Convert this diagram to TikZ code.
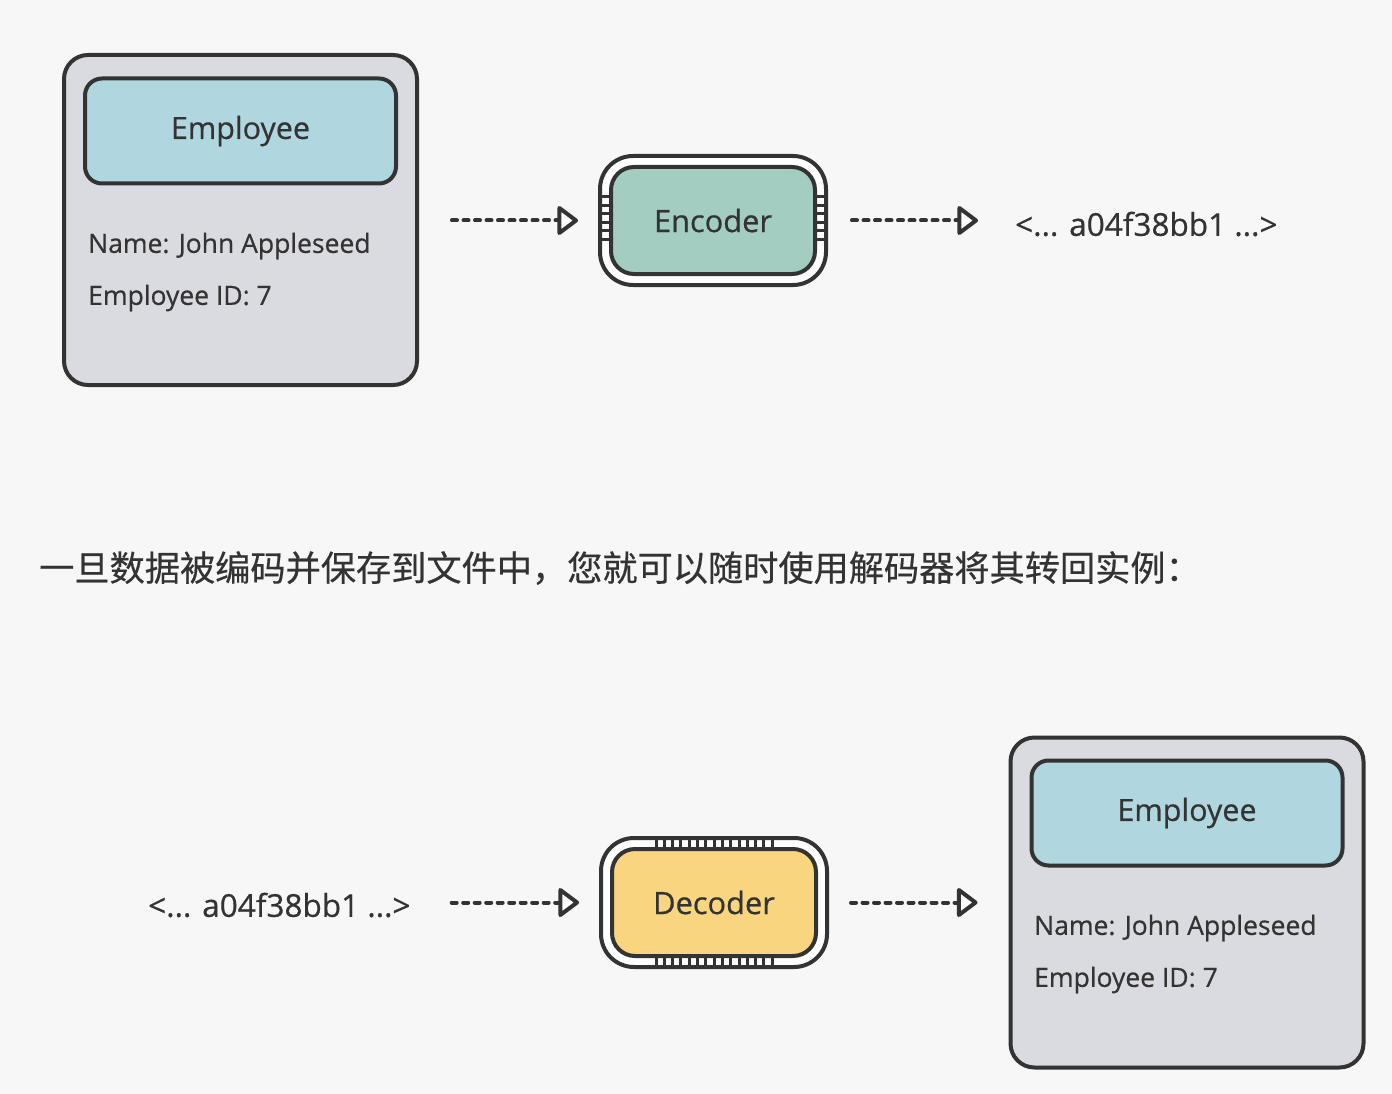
\documentclass[tikz,border=0pt]{standalone}
\usepackage{fontspec}
\setmainfont[FakeBold=0.6]{Open Sans}
\newfontfamily\cjk[FakeBold=0.4]{Noto Sans CJK SC}
\usetikzlibrary{arrows.meta}
\definecolor{bg}{HTML}{F7F7F7}
\definecolor{ink}{HTML}{333333}
\definecolor{boxgray}{HTML}{DADBE0}
\definecolor{hdrblue}{HTML}{B0D7DF}
\definecolor{encgreen}{HTML}{A3CDC1}
\definecolor{decyellow}{HTML}{F8D57E}
\begin{document}
\begin{tikzpicture}[x=1pt,y=-1pt,
  outerbox/.style={draw=ink, line width=4pt, fill=boxgray, rounded corners=24pt,
    minimum width=353pt, minimum height=330pt, inner sep=0pt},
  hdrbox/.style={draw=ink, line width=4pt, fill=hdrblue, rounded corners=17pt,
    minimum width=311pt, minimum height=105pt, inner sep=0pt,
    font=\fontsize{30.5}{34}\selectfont, text=ink},
  field/.style={anchor=west, inner sep=0pt, text=ink, font=\fontsize{26.5}{30}\selectfont},
  coderout/.style={draw=ink, line width=4pt, fill=white, rounded corners=33pt,
    minimum width=226pt, minimum height=129pt, inner sep=0pt},
  coderin/.style={draw=ink, line width=4pt, rounded corners=23pt,
    minimum width=204pt, minimum height=107pt, inner sep=0pt,
    font=\fontsize{30.8}{34}\selectfont, text=ink},
  cipher/.style={anchor=west, inner sep=0pt, text=ink, font=\fontsize{31.5}{34}\selectfont},
  stripe/.style={ink, line width=3pt},
  flow/.style={draw=ink, line width=4pt, line cap=round, dash pattern=on 5pt off 6.5pt,
    -{Triangle[fill=white, length=22pt, width=32pt, round]}},
]
\useasboundingbox[fill=bg] (0,0) rectangle (1392,1094);

% ---------- top row ----------
\node[outerbox] (emp1) at (240.5,220) {};
\node[hdrbox] (hdr1) at (240.5,131) {\raisebox{-3pt}{Employee}};
\node[field] (name1) at (88,246) {Name: John Appleseed};
\node[field] (id1) at (88,298) {Employee ID: 7};

\node[coderout] (enc) at (713,220.5) {};
\foreach \k in {0,...,5}{
  \draw[stripe] (599,197+8.5*\k) -- (611,197+8.5*\k);
  \draw[stripe] (815,197+8.5*\k) -- (827,197+8.5*\k);
}
\node[coderin, fill=encgreen] (encin) at (713,220.5) {Encoder};

\node[cipher] (ct1) at (1015,224) {<... a04f38bb1 ...>};

\draw[flow, shorten <=33pt, shorten >=20pt] (emp1.east |- enc.west) -- (enc.west);
\draw[flow, shorten <=24pt, shorten >=37pt] (enc.east) -- (enc.east -| ct1.west);

% ---------- sentence ----------
\node[anchor=west, inner sep=0pt, text=ink, font=\cjk\fontsize{35.2}{40}\selectfont] (txt) at (39,568)
  {一旦数据被编码并保存到文件中，您就可以随时使用解码器将其转回实例：};

% ---------- bottom row ----------
\node[cipher] (ct2) at (148,905) {<... a04f38bb1 ...>};

\node[coderout] (dec) at (714,902.5) {};
\foreach \k in {0,...,14}{
  \draw[stripe] (656+8.3*\k,836) -- (656+8.3*\k,849);
  \draw[stripe] (656+8.3*\k,956) -- (656+8.3*\k,969);
}
\node[coderin, fill=decyellow] (decin) at (714,902.5) {Decoder};

\node[outerbox] (emp2) at (1187,902.5) {};
\node[hdrbox] (hdr2) at (1187,813) {\raisebox{-3pt}{Employee}};
\node[field] (name2) at (1034,928) {Name: John Appleseed};
\node[field] (id2) at (1034,980) {Employee ID: 7};

\draw[flow, shorten <=41pt, shorten >=20pt] (ct2.east |- dec.west) -- (dec.west);
\draw[flow, shorten <=22pt, shorten >=31pt] (dec.east) -- (dec.east -| emp2.west);
\end{tikzpicture}
\end{document}
